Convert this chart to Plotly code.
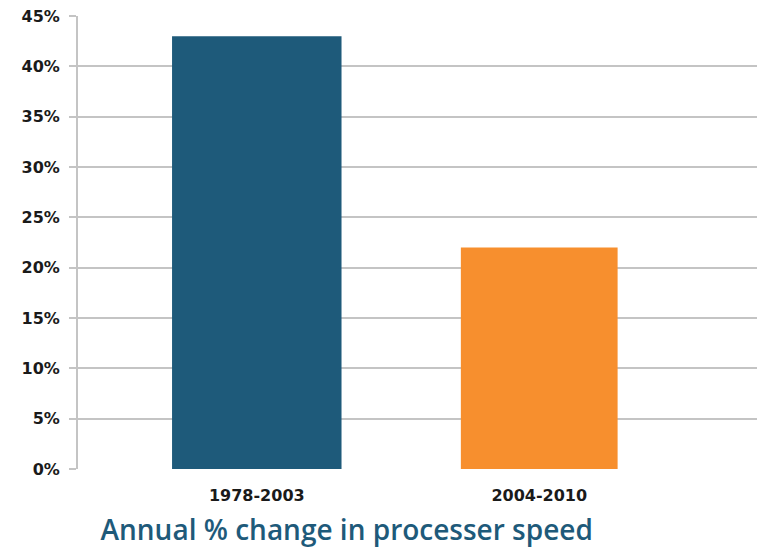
import plotly.graph_objects as go

# Annual processor speed improvement by period
periods = ["1978-2003", "2004-2010"]
annual_change = [43, 22]
bar_colors = ["#1e5a7a", "#f78f2e"]
bar_widths = [0.60, 0.555]

y_ticks = [0, 5, 10, 15, 20, 25, 30, 35, 40, 45]
y_tick_labels = [f"{v}%" for v in y_ticks]

label_font = dict(family="DejaVu Sans", size=16, color="#1a1a1a", weight="bold")

fig = go.Figure(
    go.Bar(
        x=[0, 1],
        y=annual_change,
        width=bar_widths,
        marker=dict(color=bar_colors, line=dict(width=0)),
        hoverinfo="skip",
    )
)

fig.update_layout(
    width=757,
    height=548,
    margin=dict(l=78, r=0, t=16, b=79),
    paper_bgcolor="white",
    plot_bgcolor="white",
    showlegend=False,
    title=dict(
        text="Annual % change in processer speed",
        font=dict(family="Open Sans", size=28, color="#1e5a7a", weight=600),
        x=0.458,
        xanchor="center",
        xref="container",
        y=0.033,
        yanchor="middle",
        yref="container",
    ),
)

fig.update_xaxes(
    range=[-0.633, 1.771],
    tickmode="array",
    tickvals=[0, 1],
    ticktext=periods,
    showgrid=False,
    zeroline=False,
    showline=False,
    ticks="",
    ticklabelstandoff=15,
    tickfont=label_font,
)

fig.update_yaxes(
    range=[0, 45],
    tickmode="array",
    tickvals=y_ticks,
    ticktext=y_tick_labels,
    showgrid=True,
    gridcolor="#c4c4c4",
    gridwidth=2,
    zeroline=False,
    showline=True,
    linecolor="#c4c4c4",
    linewidth=2,
    ticks="outside",
    ticklen=7,
    tickwidth=2,
    tickcolor="#c4c4c4",
    ticklabelstandoff=6,
    tickfont=label_font,
)

fig.write_html("out.html")
